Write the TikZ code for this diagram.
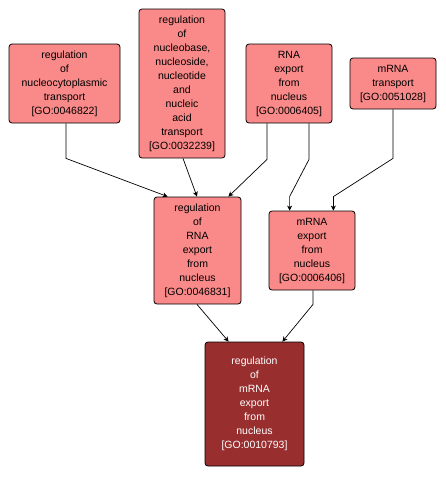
\documentclass[tikz,border=0pt]{standalone}
\usepackage{fontspec}
\setmainfont{Liberation Sans}
\usetikzlibrary{arrows.meta}
\definecolor{salmon}{RGB}{250,137,137}
\definecolor{darkred}{RGB}{153,46,46}
\tikzset{
  gobox/.style={draw=black, line width=0.8pt, rounded corners=3pt, fill=salmon,
    align=center, inner sep=0pt, font=\fontsize{10.5}{14}\selectfont},
  gotarget/.style={gobox, fill=darkred, text=white},
  edge/.style={draw=black, line width=0.7pt, -{Stealth[length=5pt,width=5pt,inset=1.5pt]}}
}
\begin{document}
\begin{tikzpicture}[x=1pt,y=-1pt]
\useasboundingbox (0,0) rectangle (446,477);
\node[gobox, minimum width=111pt, minimum height=79pt] (A) at (64.5,83.5)
  {regulation\\of\\nucleocytoplasmic\\transport\\{[GO:0046822]}};
\node[gobox, minimum width=86pt, minimum height=149pt] (B) at (182,83.5)
  {regulation\\of\\nucleobase,\\nucleoside,\\nucleotide\\and\\nucleic\\acid\\transport\\{[GO:0032239]}};
\node[gobox, minimum width=86pt, minimum height=79pt] (C) at (289,83.5)
  {RNA\\export\\from\\nucleus\\{[GO:0006405]}};
\node[gobox, minimum width=86pt, minimum height=51pt] (D) at (393,83.5)
  {mRNA\\transport\\{[GO:0051028]}};
\node[gobox, minimum width=87pt, minimum height=107pt] (E) at (197.5,250.5)
  {regulation\\of\\RNA\\export\\from\\nucleus\\{[GO:0046831]}};
\node[gobox, minimum width=86pt, minimum height=79pt] (F) at (312,250.5)
  {mRNA\\export\\from\\nucleus\\{[GO:0006406]}};
\node[gotarget, minimum width=99pt, minimum height=124pt] (G) at (254.5,404)
  {regulation\\of\\mRNA\\export\\from\\nucleus\\{[GO:0010793]}};

\draw[edge] ([xshift=1.5pt]A.south) -- ++(0,35) -- ([xshift=14pt]E.north west);
\draw[edge] ([xshift=1pt]B.south) -- ([xshift=-0.5pt]E.north);
\draw[edge] ([xshift=-22pt]C.south) -- ++(0,36) -- ([xshift=-13pt]E.north east);
\draw[edge] ([xshift=20pt]C.south) -- ++(0,36) -- ([xshift=21pt]F.north west |- E.north) -- ([xshift=21pt]F.north west);
\draw[edge] (D.south) -- ++(0,49) -- ([xshift=-22pt]F.north east |- E.north) -- ([xshift=-22pt]F.north east);
\draw[edge] ([xshift=-0.5pt]E.south) -- ([xshift=24pt]G.north west);
\draw[edge] ([xshift=1pt]F.south) -- ++(0,14) -- ([xshift=-22pt]G.north east);
\end{tikzpicture}
\end{document}
